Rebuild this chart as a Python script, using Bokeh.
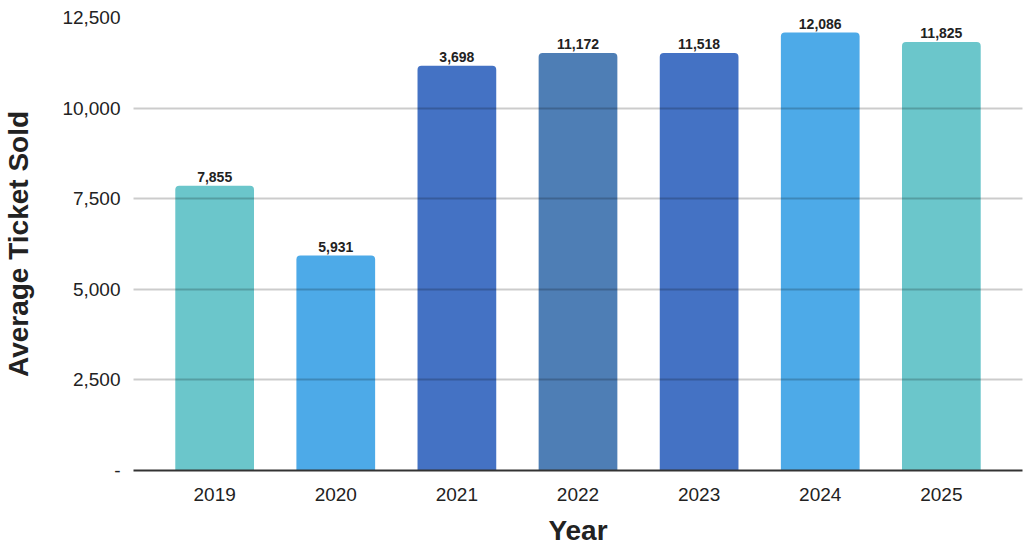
from bokeh.plotting import figure
from bokeh.models import ColumnDataSource, FactorRange, Range1d, NumeralTickFormatter
from bokeh.core.properties import value
from bokeh.embed import file_html
from bokeh.resources import INLINE

years = ["2019", "2020", "2021", "2022", "2023", "2024", "2025"]
tickets = [7855, 5931, 11172, 11518, 11518, 12086, 11825]
bar_labels = ["7,855", "5,931", "3,698", "11,172", "11,518", "12,086", "11,825"]
colors = ["#6BC6CB", "#4DAAE8", "#4472C4", "#4E7EB5", "#4472C4", "#4DAAE8", "#6BC6CB"]

FONT = "Liberation Sans"

source = ColumnDataSource(data=dict(years=years, tickets=tickets, labels=bar_labels, colors=colors))

p = figure(x_range=FactorRange(factors=years, range_padding=0.17, range_padding_units="absolute"),
           y_range=Range1d(0, 12500), width=1024, height=548,
           output_backend="svg", toolbar_location=None,
           min_border_left=133, min_border_right=2, min_border_top=17, min_border_bottom=78)
p.outline_line_color = None

p.vbar(x="years", top="tickets", width=0.65, source=source, fill_color="colors",
       line_color=None, border_radius=(4, 4, 0, 0))
p.text(x="years", y="tickets", text="labels", source=source, text_align="center",
       text_baseline="bottom", y_offset=-4, text_font=value(FONT), text_font_style="bold",
       text_font_size="14px", text_color="#222222")

p.ygrid.level = "overlay"
p.ygrid.grid_line_color = "#000000"
p.ygrid.grid_line_alpha = 0.2
p.ygrid.grid_line_width = 2
p.xgrid.grid_line_color = None

p.yaxis.ticker = [0, 2500, 5000, 7500, 10000, 12500]
p.yaxis.formatter = NumeralTickFormatter(format="0,0")
p.yaxis.major_label_overrides = {0: "-"}
p.yaxis.axis_line_color = None
p.yaxis.major_tick_line_color = None
p.yaxis.minor_tick_line_color = None
p.yaxis.major_label_standoff = 7
p.yaxis.axis_label = "Average Ticket Sold"
p.yaxis.axis_label_standoff = 25

p.xaxis.axis_line_color = "#333333"
p.xaxis.axis_line_width = 2
p.xaxis.major_tick_line_color = None
p.xaxis.major_label_standoff = 11
p.xaxis.axis_label = "Year"
p.xaxis.axis_label_standoff = 11

for ax in (p.xaxis, p.yaxis):
    ax.major_label_text_font = FONT
    ax.major_label_text_font_size = "19px"
    ax.major_label_text_color = "#222222"
    ax.axis_label_text_font = FONT
    ax.axis_label_text_font_size = "28px"
    ax.axis_label_text_font_style = "bold"
    ax.axis_label_text_color = "#222222"

open("out.html", "w").write(file_html(p, INLINE))
